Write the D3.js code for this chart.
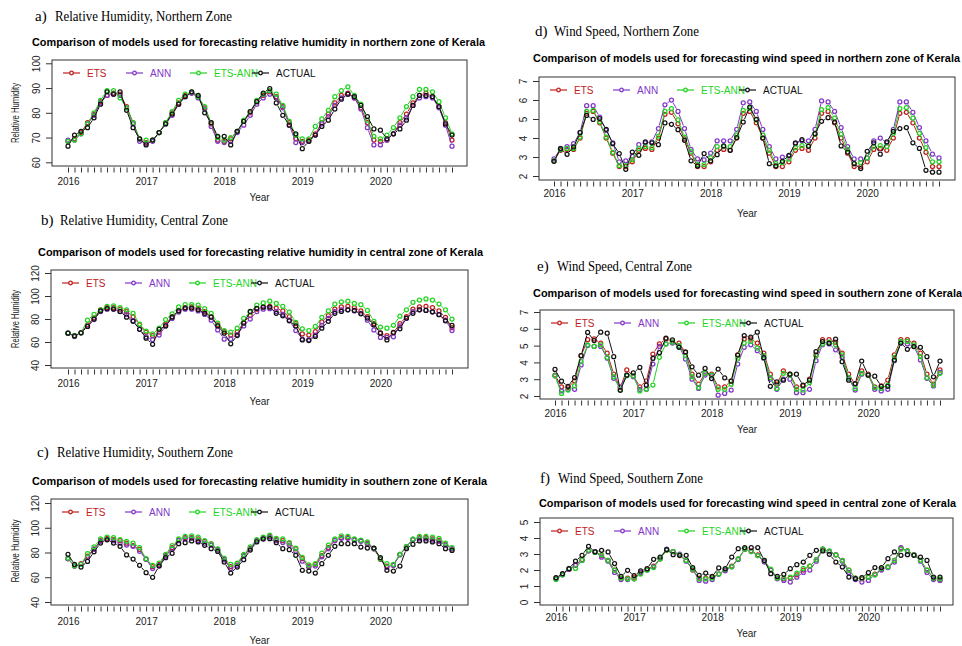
<!DOCTYPE html>
<html>
<head>
<meta charset="utf-8">
<script src="https://cdn.jsdelivr.net/npm/d3@7"></script>
<style>
  html, body { margin: 0; padding: 0; background: #fff; }
  svg { display: block; }
</style>
</head>
<body>
<div id="chart_id"></div>
<script>
// --- --- --- Data --- --- ---

const years = ["2016", "2017", "2018", "2019", "2020"];
const months = d3.range(60); // Jan 2016 .. Dec 2020
const seriesNames = ["ETS", "ANN", "ETS-ANN", "ACTUAL"];
const seriesColors = ["#c0201e", "#8236c8", "#1fd41f", "#111111"];

// a) relative humidity, northern zone
const rhNorthEts = [68.5,69.5,72,76,79.5,84.5,87,88,87.5,82.5,76,69.5, 68,69,72,76,80,84,87,88,86.5,82,75.5,69, 68.5,69.5,72.5,76.5,80,84.5,87,88.5,86.5,82.5,76,69.5, 68.5,69,71.5,76,79.5,84,87,88,86,82,76,69, 68.5,69,71.5,76,79.5,84,87,88,86.5,82.5,76,69];
const rhNorthAnn = [69,69,71.5,75.5,79,84,87,87.5,87,82,75.5,68.5, 67.5,68.5,72,75.5,79,83.5,86.5,88,86,81.5,74.5,68.5, 68,68.5,72,75,79,83.5,86,87.5,86,82,75,68, 68,68.5,71,75.5,78.5,83,86,87.5,86,81.5,74,67, 67,69,71.5,75,78,83,86,86.5,86,82,75,66.5];
const rhNorthEtsAnn = [68.5,69,71.5,75.5,80,85,89,89,86,82,76,69.5, 69,69,72,76,80.5,85,87.5,88.5,86.5,82.5,76,70, 69,70,72.5,77,80.5,85,87.5,89,87.5,83,76.5,71, 69.5,69.5,74.5,77.5,81,86.5,89,90.5,87,83.5,77,70.5, 69.5,71,74,78,82.5,86.5,89.5,89.5,88.5,84.5,78,71.5];
const rhNorthActual = [66.5,71,72.5,74,78,83.5,88.5,87.5,88.5,81,74,69.5, 67,69,72,75.5,79.5,83.5,86.5,88.5,87,80,76,70.5, 70.5,67,72.5,76.5,80.5,84.5,88,89.8,84,79,75,71.5, 65.5,68.5,71,74.5,77,81.5,85.5,87.5,86.5,83,78.5,73.5, 73,69.5,71.5,73.5,77,83,87,87,86.5,82.5,75.5,71];

// b) relative humidity, central zone
const rhCentralEts = [67.7,65.5,68,75,81,88,90,90,88.5,86.5,82,75, 68.5,65.5,68.5,75.5,82,87.5,90,90.5,89.5,86.5,82,75, 69,66,68.5,77,83,88.5,90.5,91,89.5,87,82,76, 67,66,69,77.5,83,88.5,90.5,91,90,87,82,76, 68,65.5,68,76,82,88.5,90.5,91,90,87,81.5,72.5];
const rhCentralAnn = [67.7,64.7,68,73.5,79.5,86.5,88.5,88.5,86.5,84,78.5,71, 64.5,62,66,74,80.5,86,88.5,88.5,87,84,79,70.5, 62.5,62.5,66.5,74,80,86.5,88.5,89,86.5,84,79,70, 62.5,62,66,74.5,80.5,86.5,88,88,87,85,79,70.5, 64,64,64.5,74,80.5,86.5,88,87.5,86,84,79,70];
const rhCentralEtsAnn = [67.7,65.5,68,79,84,88,91,91.5,90,88,85,75.5, 69.5,67,72,79.5,84.5,90.5,92.5,92.5,92,89,85,76.5, 70,68.5,72,80.5,86,92,94,95.5,93.5,91,86,77, 71.5,70,73.5,81.5,87,93,95,95.5,93.5,92.5,87.5,78, 73,72,74.5,82.5,88,94.5,96.5,97.5,96.5,93,88,80];
const rhCentralActual = [67.7,65.3,68,73.5,80,87,89,88.6,86.6,81.6,78,71, 63.3,58,71,74,81.6,87,89.5,89.5,88,85,81.6,74, 67.7,58.4,65.6,76.4,86.6,89.2,90.3,90.3,85,82.8,78.4,74, 61.8,61.3,64.8,72,78,85,86.6,88,87.4,84.5,80.8,75, 67.7,61.8,68.3,71.5,80.8,85,88,87.4,86.3,83.7,78.4,74.4];

// c) relative humidity, southern zone
const rhSouthEts = [75,69,71,77,83,89.5,91.5,90.5,89.5,87.5,85.5,82.5, 74.5,68.5,70.5,77.5,84,90,92,92,91,89,87,82.5, 74.5,68.5,71,77.5,83.5,89.5,92,93,90.5,89.5,87.5,83, 75,69,70.5,77.5,84,90,92,92,90.5,89.5,87.5,83, 74.5,69,70,78.5,84.5,90.5,92,92,91,90,87,83];
const rhSouthAnn = [75,69,70.5,76,82.5,89,90.5,89.5,87.5,86,85,81, 74.5,67,69.5,77,83,89.5,91,91.5,89.5,87.5,86,82, 74,67,69.5,77,83,89.5,91.5,92.5,89.5,88,86,81, 73,68,69,76.5,83,89.5,91.5,91.5,90,89,86.5,83, 75,68,69.5,78,84.5,90.5,91,91,90,89,86,83];
const rhSouthEtsAnn = [75.5,69,70.5,79,84.5,91,92.5,92,90.5,89,87.5,84, 75,69.5,71.5,78.5,85.5,91,93,93.5,92.5,89.5,87,83, 75.5,70.5,71.5,78.5,84.5,90.5,92.5,94,91.5,91,88,83.5, 76,70,71,79.5,86,91,93.5,93,91,90,88.5,83.5, 75,71,70.5,78.5,85,91,93,93,92.5,91.5,87.5,84];
const rhSouthActual = [78.5,70.4,68.2,72.8,80.6,87.6,90.3,87.6,85,78,74.7,69.6, 63.7,59.9,69,75.8,79.3,87.1,87.9,89.3,88.5,85.8,83.1,80.9, 72.3,63.4,68.2,74.2,82,88.5,90.9,91.2,87.9,83.1,82.3,77.7, 65.6,65,63.4,71,77.7,85,87.1,87.1,87.1,84.4,83.6,83.6, 75.8,65.6,65,69,83.1,86.6,89.3,89.3,88.5,87.1,83.1,81.7];

// d) wind speed, northern zone
const windNorthEts = [2.8,3.35,3.4,3.4,4.0,5.3,5.4,4.8,4.0,3.2,2.5,2.5, 2.75,3.35,3.45,3.4,4.0,5.25,5.35,4.75,3.95,3.2,2.5,2.5, 2.75,3.35,3.4,3.35,4.0,5.3,5.4,4.8,4.0,3.2,2.5,2.5, 2.75,3.35,3.45,3.35,4.0,5.3,5.4,4.8,4.0,3.2,2.5,2.5, 2.75,3.4,3.45,3.35,4.0,5.3,5.35,4.8,4.0,3.25,2.5,2.5];
const windNorthAnn = [2.9,3.45,3.55,3.7,4.3,5.7,5.7,5.1,4.4,3.75,2.75,2.8, 3.05,3.65,3.75,3.8,4.5,5.75,6.0,5.4,4.5,3.4,2.9,2.85, 3.2,3.85,3.85,3.85,4.45,5.85,5.9,5.4,4.45,3.55,2.9,3.0, 3.05,3.7,3.85,3.85,4.45,5.95,5.9,5.4,4.55,3.55,2.9,2.9, 2.95,3.85,4.0,3.75,4.45,5.9,5.9,5.35,4.55,3.85,3.15,2.95];
const windNorthEtsAnn = [2.8,3.4,3.45,3.45,4.05,5.4,5.45,4.85,4.05,3.25,2.55,2.55, 2.85,3.45,3.55,3.5,4.1,5.4,5.55,4.95,4.05,3.3,2.6,2.6, 2.95,3.55,3.55,3.55,4.15,5.45,5.55,4.95,4.15,3.35,2.65,2.7, 2.9,3.5,3.6,3.6,4.2,5.5,5.6,5.05,4.2,3.4,2.65,2.7, 2.95,3.55,3.6,3.55,4.25,5.55,5.6,5.05,4.25,3.5,2.75,2.75];
const windNorthActual = [2.77,3.44,3.14,3.53,4.28,5.19,4.98,5.02,4.46,3.7,3.18,2.35, 3.26,3.09,3.79,3.75,3.65,4.79,4.72,4.44,3.88,2.8,2.53,3.18, 2.79,3.12,3.58,3.35,4.02,4.84,5.63,4.98,4.0,2.65,2.53,2.77, 3.09,3.74,3.91,3.56,4.23,4.88,5.07,4.84,3.58,3.26,2.65,2.39, 3.3,3.75,3.15,3.8,4.35,4.5,4.55,3.75,3.45,2.3,2.2,2.2];

// e) wind speed, central zone
const windCentralEts = [3.25,2.55,2.5,2.9,4.4,5.35,5.4,5.15,4.55,3.3,2.5,3.55, 3.2,2.55,2.9,4.5,5.1,5.4,5.2,5.15,4.6,3.3,2.7,3.35, 3.3,2.55,2.55,2.9,4.45,5.4,5.4,5.15,4.55,3.3,2.7,3.5, 3.3,2.55,2.6,3.0,4.45,5.35,5.35,5.2,4.55,3.3,2.7,3.5, 3.3,2.55,2.6,2.95,4.45,5.35,5.35,5.15,4.55,3.3,2.7,3.55];
const windCentralAnn = [3.2,2.3,2.4,2.4,3.85,5.0,4.95,4.95,4.25,3.05,2.55,3.25, 3.15,2.4,2.4,3.9,4.95,5.1,5.15,4.95,4.2,3.0,2.45,3.25, 3.2,2.05,2.15,2.35,3.9,4.9,5.05,4.7,4.25,3.0,2.4,3.0, 3.0,2.2,2.2,2.4,4.1,5.05,5.1,4.75,4.3,3.05,2.35,3.3, 3.25,2.4,2.3,2.4,4.1,5.15,5.1,4.95,4.15,3.05,2.6,3.4];
const windCentralEtsAnn = [3.2,2.15,2.35,2.6,4.05,5.05,4.95,5.05,4.3,3.15,2.35,3.2, 3.2,2.3,2.4,2.65,4.3,5.1,5.2,5.0,4.4,3.15,2.5,3.35, 3.25,2.4,2.4,2.7,4.25,5.15,5.25,4.85,4.4,3.1,2.45,3.35, 3.25,2.4,2.35,2.8,4.4,5.1,5.2,5.05,4.45,3.1,2.45,3.35, 3.25,2.5,2.45,2.65,4.3,5.25,5.25,5.05,4.35,3.1,2.65,3.35];
const windCentralActual = [3.58,2.88,2.58,3.1,4.4,5.78,5.3,5.8,5.74,4.34,2.34,3.24, 3.38,3.7,2.64,4.24,4.58,5.44,5.34,4.9,4.62,3.74,3.24,3.64, 3.04,3.6,3.08,2.88,4.44,5.6,5.5,5.8,4.28,2.58,2.84,2.94, 3.3,3.3,2.64,2.94,4.64,5.24,5.14,5.38,4.04,2.94,2.74,4.08, 3.24,3.18,2.58,2.58,4.14,5.15,4.78,4.94,4.9,4.34,3.14,4.08];

// f) wind speed, southern zone
const windSouthEts = [1.5,1.75,2.05,2.3,2.65,3.2,3.15,2.9,2.6,2.0,1.5,1.5, 1.55,1.8,2.05,2.25,2.7,3.25,3.15,2.9,2.6,2.0,1.5,1.5, 1.55,1.75,2.0,2.25,2.7,3.3,3.2,2.95,2.55,2.0,1.5,1.45, 1.5,1.7,2.0,2.25,2.65,3.3,3.15,2.95,2.6,2.0,1.5,1.45, 1.55,1.75,2.05,2.2,2.6,3.35,3.2,2.95,2.6,2.0,1.5,1.4];
const windSouthAnn = [1.45,1.7,2.05,2.3,2.6,3.2,3.15,2.8,2.55,1.85,1.4,1.4, 1.45,1.85,2.0,2.2,2.7,3.3,3.15,3.0,2.55,2.05,1.35,1.3, 1.4,1.75,1.95,2.2,2.65,3.3,3.15,2.9,2.5,2.0,1.45,1.35, 1.25,1.55,1.85,2.0,2.55,3.3,3.15,2.95,2.55,1.85,1.4,1.25, 1.35,1.7,2.0,2.15,2.5,3.4,3.15,2.95,2.55,1.85,1.4,1.35];
const windSouthEtsAnn = [1.4,1.7,2.1,2.1,2.6,3.25,3.1,2.95,2.6,2.0,1.5,1.45, 1.45,1.75,2.0,2.15,2.7,3.25,3.15,2.95,2.6,2.05,1.45,1.45, 1.5,1.75,2.05,2.2,2.7,3.3,3.15,2.9,2.6,2.05,1.5,1.5, 1.55,1.8,2.1,2.25,2.65,3.3,3.2,2.95,2.6,2.0,1.5,1.5, 1.55,1.7,2.1,2.2,2.6,3.3,3.2,2.95,2.6,2.0,1.5,1.45];
const windSouthActual = [1.52,1.77,2.08,2.56,2.92,3.48,3.13,3.23,3.13,2.4,1.6,1.98, 1.65,1.94,2.08,2.67,2.81,3.27,2.96,2.92,2.92,2.15,1.67,1.81, 1.6,2.13,2.08,2.81,3.33,3.4,3.4,3.4,2.6,1.77,1.6,1.73, 2.08,2.33,2.5,2.92,3.23,3.19,2.98,2.5,2.19,1.56,1.46,1.52, 1.83,2.15,2.15,2.71,3.13,2.92,2.96,2.92,2.81,2.6,1.56,1.56];

// --- --- --- Layout --- --- ---

const panels = [
  { tag: "a)", tagX: 35, heading: "Relative Humidity, Northern Zone", headX: 55, headW: 177, headY: 16,
    title: "Comparison of models used for forecasting relative humidity in northern zone of Kerala",
    titleX: 32, titleW: 453, titleY: 42,
    box: [52, 60, 467, 166], xPx: [68, 452], yDom: [60, 100], yPx: [162.3, 63.3], yTicks: [60, 70, 80, 90, 100],
    tickLabelY: 181, yearY: 197, ylab: "Relative Humidity", ylabY: 113, ylabW: 60,
    series: [rhNorthEts, rhNorthAnn, rhNorthEtsAnn, rhNorthActual] },
  { tag: "b)", tagX: 41, heading: "Relative Humidity, Central Zone", headX: 60, headW: 168, headY: 220,
    title: "Comparison of models used for forecasting relative humidity in central zone of Kerala",
    titleX: 38, titleW: 445, titleY: 252,
    box: [51, 270, 468, 368], xPx: [68, 452], yDom: [40, 120], yPx: [365, 273], yTicks: [40, 60, 80, 100, 120],
    tickLabelY: 383, yearY: 401, ylab: "Relative Humidity", ylabY: 319, ylabW: 58,
    series: [rhCentralEts, rhCentralAnn, rhCentralEtsAnn, rhCentralActual] },
  { tag: "c)", tagX: 37, heading: "Relative Humidity, Southern Zone", headX: 57, headW: 176, headY: 452,
    title: "Comparison of models used for forecasting relative humidity in southern zone of Kerala",
    titleX: 32, titleW: 455, titleY: 481,
    box: [51, 499, 468, 605], xPx: [68, 452], yDom: [40, 120], yPx: [602, 503], yTicks: [40, 60, 80, 100, 120],
    tickLabelY: 621, yearY: 640, ylab: "Relative Humidity", ylabY: 551, ylabW: 63,
    series: [rhSouthEts, rhSouthAnn, rhSouthEtsAnn, rhSouthActual] },
  { tag: "d)", tagX: 535, heading: "Wind Speed, Northern Zone", headX: 554, headW: 145, headY: 31,
    title: "Comparison of models used for forecasting wind speed in northern zone of Kerala",
    titleX: 533, titleW: 427, titleY: 58,
    box: [539, 77, 955, 180], xPx: [554, 939], yDom: [2, 7], yPx: [176, 81], yTicks: [2, 3, 4, 5, 6, 7],
    tickLabelY: 193, yearY: 213, ylab: null,
    series: [windNorthEts, windNorthAnn, windNorthEtsAnn, windNorthActual] },
  { tag: "e)", tagX: 537, heading: "Wind Speed, Central Zone", headX: 557, headW: 135, headY: 266,
    title: "Comparison of models used for forecasting wind speed in southern zone of Kerala",
    titleX: 533, titleW: 429, titleY: 293,
    box: [540, 310, 954, 399], xPx: [555, 940], yDom: [2, 7], yPx: [396, 312], yTicks: [2, 3, 4, 5, 6, 7],
    tickLabelY: 413, yearY: 429, ylab: null,
    series: [windCentralEts, windCentralAnn, windCentralEtsAnn, windCentralActual] },
  { tag: "f)", tagX: 540, heading: "Wind Speed, Southern Zone", headX: 558, headW: 145, headY: 478,
    title: "Comparison of models used for forecasting wind speed in central zone of Kerala",
    titleX: 539, titleW: 417, titleY: 503,
    box: [540, 518, 953, 605], xPx: [556, 940], yDom: [0, 5], yPx: [602, 522], yTicks: [0, 1, 2, 3, 4, 5],
    tickLabelY: 617, yearY: 633, ylab: null,
    series: [windSouthEts, windSouthAnn, windSouthEtsAnn, windSouthActual] },
];

const SANS = "'Liberation Sans', Arial, sans-serif";
const SERIF = "'Liberation Serif', 'Times New Roman', serif";
const R = 2.0;     // marker radius
const GAP = 3.1;   // gap around points (R type="b")

const svg = d3.select("#chart_id").append("svg")
  .attr("width", 962).attr("height", 646)
  .attr("viewBox", [0, 0, 962, 646]);

svg.append("rect").attr("width", 962).attr("height", 646).attr("fill", "#fff");

function drawPanel(p) {
  const g = svg.append("g");
  const [bx0, by0, bx1, by1] = p.box;

  const x = d3.scaleLinear().domain([0, 59]).range(p.xPx);
  const y = d3.scaleLinear().domain(p.yDom).range(p.yPx);

  // panel heading (serif) + chart title (bold)
  g.append("text").attr("x", p.tagX).attr("y", p.headY).attr("dy", "0.35em")
    .attr("font-family", SERIF).attr("font-size", 15).text(p.tag);
  g.append("text").attr("x", p.headX).attr("y", p.headY).attr("dy", "0.35em")
    .attr("font-family", SERIF).attr("font-size", 15)
    .attr("textLength", p.headW).attr("lengthAdjust", "spacingAndGlyphs").text(p.heading);
  g.append("text").attr("x", p.titleX).attr("y", p.titleY).attr("dy", "0.35em")
    .attr("font-family", SANS).attr("font-size", 10.5).attr("font-weight", "bold")
    .attr("textLength", p.titleW).attr("lengthAdjust", "spacingAndGlyphs").text(p.title);

  // box
  g.append("rect").attr("x", bx0).attr("y", by0).attr("width", bx1 - bx0).attr("height", by1 - by0)
    .attr("fill", "none").attr("stroke", "#333").attr("stroke-width", 1);

  // x axis: monthly ticks, year labels
  g.append("g").attr("transform", `translate(0,${by1 + 1.5})`)
    .call(d3.axisBottom(x).tickValues(months).tickSize(5).tickSizeOuter(0)
      .tickFormat(i => i % 12 === 0 ? years[i / 12] : ""))
    .call(a => a.select(".domain").remove())
    .call(a => a.selectAll("line").attr("stroke", "#333"))
    .call(a => a.selectAll("text").attr("y", p.tickLabelY - by1 - 1.5).attr("dy", "0.35em")
      .attr("font-family", SANS).attr("font-size", 10).attr("fill", "#222"));

  // y axis: rotated labels as in R
  g.append("g").attr("transform", `translate(${bx0},0)`)
    .call(d3.axisLeft(y).tickValues(p.yTicks).tickSize(6).tickFormat(d3.format("d")))
    .call(a => a.select(".domain").remove())
    .call(a => a.selectAll("line").attr("stroke", "#333"))
    .call(a => a.selectAll("text").attr("x", null).attr("dy", null)
      .attr("text-anchor", "middle").attr("transform", "translate(-12,0) rotate(-90)")
      .attr("font-family", SANS).attr("font-size", 10).attr("fill", "#222"));

  // axis titles
  g.append("text").attr("x", (bx0 + bx1) / 2).attr("y", p.yearY).attr("dy", "0.35em")
    .attr("text-anchor", "middle").attr("font-family", SANS).attr("font-size", 10).attr("fill", "#222")
    .text("Year");
  if (p.ylab) {
    g.append("text").attr("transform", `translate(19,${p.ylabY}) rotate(-90)`)
      .attr("text-anchor", "middle").attr("font-family", SANS).attr("font-size", 10).attr("fill", "#222")
      .attr("textLength", p.ylabW).attr("lengthAdjust", "spacingAndGlyphs")
      .text(p.ylab);
  }

  // series, drawn like R type="b"
  p.series.forEach((vals, si) => {
    const pts = vals.map((v, i) => [x(i), y(v)]);
    const segs = [];
    for (let i = 0; i < pts.length - 1; i++) {
      const [x0, y0] = pts[i], [x1, y1] = pts[i + 1];
      const len = Math.hypot(x1 - x0, y1 - y0);
      if (len <= 2 * GAP) continue;
      const ux = (x1 - x0) / len, uy = (y1 - y0) / len;
      segs.push([x0 + ux * GAP, y0 + uy * GAP, x1 - ux * GAP, y1 - uy * GAP]);
    }
    const sg = g.append("g").attr("stroke", seriesColors[si]);
    sg.selectAll("line").data(segs).join("line")
      .attr("x1", d => d[0]).attr("y1", d => d[1]).attr("x2", d => d[2]).attr("y2", d => d[3])
      .attr("stroke-width", 1);
    sg.selectAll("circle").data(pts).join("circle")
      .attr("cx", d => d[0]).attr("cy", d => d[1]).attr("r", R)
      .attr("fill", "none").attr("stroke-width", 1.25);
  });

  // legend
  const legY = by0 + 13;
  const legOff = [11, 74, 138, 200];
  const lg = g.append("g").selectAll("g").data(seriesNames).join("g")
    .attr("transform", (d, i) => `translate(${bx0 + legOff[i]},${legY})`);
  lg.append("line").attr("x1", 0).attr("x2", 17).attr("stroke", (d, i) => seriesColors[i]).attr("stroke-width", 1.2);
  lg.append("circle").attr("cx", 8.5).attr("r", 1.8).attr("fill", "#fff")
    .attr("stroke", (d, i) => seriesColors[i]).attr("stroke-width", 1.3);
  lg.append("text").attr("x", 24).attr("dy", "0.35em")
    .attr("font-family", SANS).attr("font-size", 10).attr("fill", (d, i) => seriesColors[i])
    .text(d => d);
}

panels.forEach(drawPanel);
</script>
</body>
</html>
